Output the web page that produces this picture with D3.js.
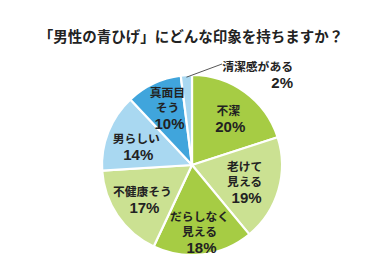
<!DOCTYPE html>
<html><head><meta charset="utf-8">
<script src="https://cdn.jsdelivr.net/npm/d3@7"></script>
<style>
html,body{margin:0;padding:0;background:#fff;}
svg{display:block;font-family:"Noto Sans CJK JP","Noto Sans",sans-serif;}
.pct{font-family:"Liberation Sans","Noto Sans",sans-serif;}
</style></head>
<body>
<svg id="chart" width="384" height="274"></svg>
<script>
const title = "「男性の青ひげ」にどんな印象を持ちますか？";
const categories = ["不潔", "老けて見える", "だらしなく見える", "不健康そう", "男らしい", "真面目そう", "清潔感がある"];
const labelLines = [["不潔"], ["老けて", "見える"], ["だらしなく", "見える"], ["不健康そう"], ["男らしい"], ["真面目", "そう"], ["清潔感がある"]];
const values = [20, 19, 18, 17, 14, 10, 2];
const colors = ["#a6cc44", "#cbe192", "#a6cc44", "#cbe192", "#a9d8f1", "#40a5dc", "#a9d8f1"];
// label nudges (layout only)
const nudges = [[1, 2], [-5, 0], [0, 7], [0, 0], [0, 3], [1, -3], [0, 0]];

const svg = d3.select("#chart");
const cx = 192, cy = 165, R = 90;

svg.append("text").attr("x", 191).attr("y", 35).attr("text-anchor", "middle")
  .attr("dominant-baseline", "central").attr("font-size", 14.5).attr("font-weight", 700)
  .attr("fill", "#222").text(title);

const data = categories.map((c, i) => ({cat: c, value: values[i], lines: labelLines[i], color: colors[i], nudge: nudges[i]}));
const pie = d3.pie().sort(null).value(d => d.value).startAngle(0).endAngle(2 * Math.PI);
const arcs = pie(data);
const arc = d3.arc().innerRadius(0).outerRadius(R);
const labelArc = d3.arc().innerRadius(60).outerRadius(60);

const g = svg.append("g").attr("transform", `translate(${cx},${cy})`);
g.selectAll("path").data(arcs).enter().append("path")
  .attr("d", arc).attr("fill", d => d.data.color)
  .attr("stroke", "#fff").attr("stroke-width", 2.2).attr("stroke-linejoin", "round");

const labelFs = 11.8, pctFs = 15, lh = 15.5, pctGap = 17;
arcs.forEach((a, i) => {
  if (i === arcs.length - 1) return;
  const [x0, y0] = labelArc.centroid(a);
  const lines = a.data.lines;
  const totalH = (lines.length - 1) * lh + pctGap;
  const x = x0 + a.data.nudge[0];
  let y = y0 + a.data.nudge[1] - totalH / 2;
  lines.forEach((t, k) => {
    g.append("text").attr("x", x).attr("y", y + k * lh).attr("text-anchor", "middle")
      .attr("dominant-baseline", "central").attr("font-size", labelFs).attr("font-weight", 700)
      .attr("fill", "#222").text(t);
  });
  g.append("text").attr("class", "pct").attr("x", x + 2).attr("y", y + (lines.length - 1) * lh + pctGap).attr("text-anchor", "middle")
    .attr("dominant-baseline", "central").attr("font-size", pctFs).attr("font-weight", 700)
    .attr("fill", "#222").text(a.data.value + "%");
});

// small slice: leader line + outside label
const last = arcs[arcs.length - 1];
const mid = (last.startAngle + last.endAngle) / 2;
const p0 = [Math.sin(mid) * (R - 2), -Math.cos(mid) * (R - 2)];
const p1 = [30, -101];
g.append("line").attr("x1", p0[0]).attr("y1", p0[1]).attr("x2", p1[0]).attr("y2", p1[1])
  .attr("stroke", "#444").attr("stroke-width", 0.9);
g.append("text").attr("x", 101).attr("y", -100).attr("text-anchor", "end")
  .attr("dominant-baseline", "central").attr("font-size", labelFs).attr("font-weight", 700)
  .attr("fill", "#222").text(last.data.lines[0]);
g.append("text").attr("class", "pct").attr("x", 101).attr("y", -83).attr("text-anchor", "end")
  .attr("dominant-baseline", "central").attr("font-size", pctFs).attr("font-weight", 700)
  .attr("fill", "#222").text(last.data.value + "%");
</script>
</body></html>
